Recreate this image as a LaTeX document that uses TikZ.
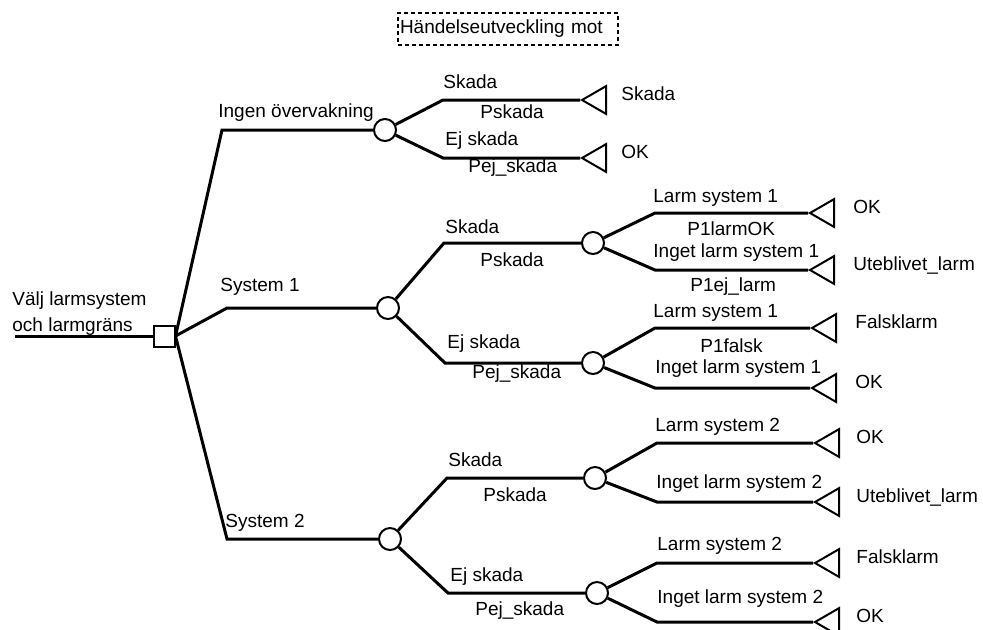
\documentclass[tikz,border=0pt]{standalone}
\usepackage{fontspec}
\setmainfont{Liberation Sans}
\usetikzlibrary{positioning}
\usetikzlibrary{shapes.geometric}
\tikzset{
	branch/.style={draw, line width=1.5pt},
	decision/.style={
		rectangle,
		draw, line width=1pt,
		minimum size=10.5pt,
		inner sep=0pt},
	chance/.style={
		circle,
		draw, line width=1pt,
		minimum size=11pt,
		inner sep=0pt},
	endtri/.style={
		regular polygon,
		regular polygon sides=3,
		shape border rotate=90,
		draw, line width=1pt,
		minimum size=16pt,
		inner sep=0pt},
	lbl/.style={anchor=base west, inner sep=0pt},
	endtxt/.style={anchor=base west, inner sep=0pt},
	titlebox/.style={
		draw, line width=1pt,
		dash pattern=on 2pt off 1.5pt,
		minimum height=16pt,
		text width=108pt,
		align=left,
		inner xsep=1pt},
}

\begin{document}
\begin{tikzpicture}
	[x=0.5pt, y=-0.5pt,
	font=\fontsize{9.5pt}{11pt}\selectfont]
	\useasboundingbox (0,0) rectangle (983,629);

	\node[titlebox] (titel) at (508,29) {Händelseutveckling mot};

	% beslutsnod och forsta grenar
	\coordinate (start) at (15,336);
	\node[decision] (dec) at (164,336) {};
	\node[chance] (c1) at (385,130) {};
	\node[chance] (c2) at (388,308) {};
	\node[chance] (c3) at (390,539) {};
	\coordinate (k1) at (222,130);
	\coordinate (k2) at (227,308);
	\coordinate (k3) at (227,539);

	\node[lbl] (valj1) at (12,305) {Välj larmsystem};
	\node[lbl] (valj2) at (12,331) {och larmgräns};
	\node[lbl] (ingen) at (218,117) {Ingen övervakning};
	\node[lbl] (sys1) at (220,291) {System 1};
	\node[lbl] (sys2) at (225,527) {System 2};

	\draw[branch] (start) -- (dec);
	\draw[branch] (dec.east) -- (k1) -- (c1);
	\draw[branch] (dec.east) -- (k2) -- (c2);
	\draw[branch] (dec.east) -- (k3) -- (c3);

	% ingen overvakning
	\coordinate (k11) at (443,100);
	\coordinate (k12) at (443,158);
	\node[endtri] (t11) at (598,100) {};
	\node[endtri] (t12) at (598,158) {};
	\draw[branch] (c1) -- (k11) -- (t11);
	\draw[branch] (c1) -- (k12) -- (t12);
	\node[lbl] (s11) at (443,88) {Skada};
	\node[lbl] (p11) at (480,118) {Pskada};
	\node[lbl] (s12) at (445,145) {Ej skada};
	\node[lbl] (p12) at (468,172) {Pej\_skada};
	\node[right=7pt of t11.east, endtxt] (e11) {Skada};
	\node[right=7pt of t12.east, endtxt] (e12) {OK};

	% system 1
	\coordinate (k21) at (444,243);
	\coordinate (k22) at (445,363);
	\node[chance] (c21) at (593,243) {};
	\node[chance] (c22) at (593,363) {};
	\draw[branch] (c2) -- (k21) -- (c21);
	\draw[branch] (c2) -- (k22) -- (c22);
	\node[lbl] (s21) at (445,233) {Skada};
	\node[lbl] (p21) at (480,266) {Pskada};
	\node[lbl] (s22) at (447,348) {Ej skada};
	\node[lbl] (p22) at (472,378) {Pej\_skada};

	\coordinate (k211) at (655,213);
	\coordinate (k212) at (655,270);
	\coordinate (k221) at (655,328);
	\coordinate (k222) at (655,388);
	\node[endtri] (t211) at (826,213) {};
	\node[endtri] (t212) at (826,270) {};
	\node[endtri] (t221) at (828,328) {};
	\node[endtri] (t222) at (828,388) {};
	\draw[branch] (c21) -- (k211) -- (t211);
	\draw[branch] (c21) -- (k212) -- (t212);
	\draw[branch] (c22) -- (k221) -- (t221);
	\draw[branch] (c22) -- (k222) -- (t222);
	\node[lbl] (l211) at (653,202) {Larm system 1};
	\node[lbl] (q211) at (687,235) {P1larmOK};
	\node[lbl] (l212) at (653,257) {Inget larm system 1};
	\node[lbl] (q212) at (690,291) {P1ej\_larm};
	\node[lbl] (l221) at (653,317) {Larm system 1};
	\node[lbl] (q221) at (700,352) {P1falsk};
	\node[lbl] (l222) at (655,373) {Inget larm system 1};
	\node[right=9pt of t211.east, endtxt] (e211) {OK};
	\node[right=9pt of t212.east, endtxt] (e212) {Uteblivet\_larm};
	\node[right=9pt of t221.east, endtxt] (e221) {Falsklarm};
	\node[right=9pt of t222.east, endtxt] (e222) {OK};

	% system 2
	\coordinate (k31) at (447,478);
	\coordinate (k32) at (448,593);
	\node[chance] (c31) at (595,478) {};
	\node[chance] (c32) at (597,593) {};
	\draw[branch] (c3) -- (k31) -- (c31);
	\draw[branch] (c3) -- (k32) -- (c32);
	\node[lbl] (s31) at (448,466) {Skada};
	\node[lbl] (p31) at (483,501) {Pskada};
	\node[lbl] (s32) at (450,581) {Ej skada};
	\node[lbl] (p32) at (475,615) {Pej\_skada};

	\coordinate (k311) at (657,443);
	\coordinate (k312) at (657,502);
	\coordinate (k321) at (657,563);
	\coordinate (k322) at (657,622);
	\node[endtri] (t311) at (831,443) {};
	\node[endtri] (t312) at (831,502) {};
	\node[endtri] (t321) at (831,563) {};
	\node[endtri] (t322) at (831,622) {};
	\draw[branch] (c31) -- (k311) -- (t311);
	\draw[branch] (c31) -- (k312) -- (t312);
	\draw[branch] (c32) -- (k321) -- (t321);
	\draw[branch] (c32) -- (k322) -- (t322);
	\node[lbl] (l311) at (655,431) {Larm system 2};
	\node[lbl] (l312) at (656,488) {Inget larm system 2};
	\node[lbl] (l321) at (657,550) {Larm system 2};
	\node[lbl] (l322) at (657,603) {Inget larm system 2};
	\node[right=8pt of t311.east, endtxt] (e311) {OK};
	\node[right=8pt of t312.east, endtxt] (e312) {Uteblivet\_larm};
	\node[right=8pt of t321.east, endtxt] (e321) {Falsklarm};
	\node[right=8pt of t322.east, endtxt] (e322) {OK};
\end{tikzpicture}
\end{document}
